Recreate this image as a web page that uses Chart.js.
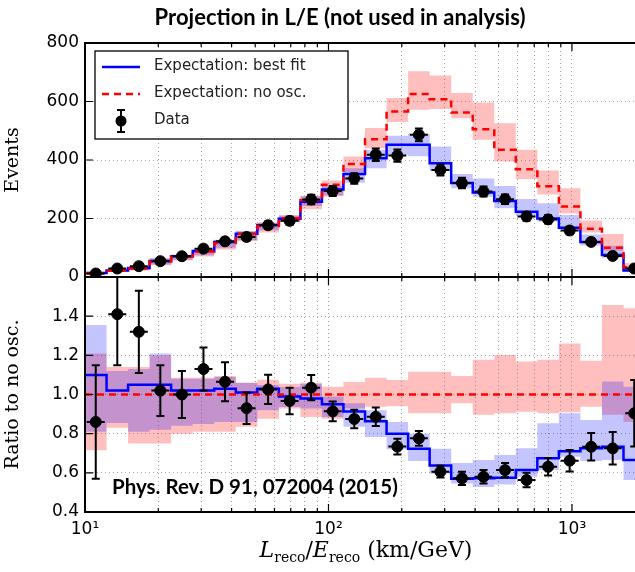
<!DOCTYPE html>
<html>
<head>
<meta charset="utf-8">
<script src="https://cdn.jsdelivr.net/npm/chart.js@4.4.1/dist/chart.umd.min.js"></script>
<style>
  body { margin: 0; background: #fff; overflow: hidden; }
  #wrap { position: relative; width: 635px; height: 572px; overflow: hidden; }
  canvas { position: absolute; left: 0; top: 0; }
  .txt { position: absolute; color: #000; white-space: nowrap; }
  #title { left: 0; width: 680px; top: 3px; text-align: center; font: 700 22px Lato, sans-serif; }
  #ref { left: 112px; top: 474px; font: 700 20.5px Lato, sans-serif; }
  #xlabel { left: 0; width: 732px; top: 538px; text-align: center; font: 22px "DejaVu Serif", serif; line-height: 24px; }
  #xlabel sub { font-size: 14px; vertical-align: -5px; line-height: 0; }
</style>
</head>
<body>
<div id="wrap">
  <canvas id="topChart" width="660" height="572"></canvas>
  <canvas id="ratioChart" width="660" height="572"></canvas>
  <div class="txt" id="title">Projection in L/E (not used in analysis)</div>
  <div class="txt" id="ref">Phys. Rev. D 91, 072004 (2015)</div>
  <div class="txt" id="xlabel"><i>L</i><sub>reco</sub>/<i>E</i><sub>reco</sub> (km/GeV)</div>
</div>
<script>
// bins in L/E (km/GeV), log spaced
const binEdges = [10, 12.26, 15.03, 18.42, 22.58, 27.69, 33.95, 41.62, 51.03, 62.55, 76.68, 94.0, 115.2,
  141.3, 173.2, 212.3, 260.3, 319.1, 391.2, 479.6, 587.9, 720.7, 883.6, 1083, 1328, 1628, 1995];
const binCenters = [11.07, 13.57, 16.64, 20.39, 25.0, 30.66, 37.59, 46.09, 56.5, 69.26, 84.9, 104.1, 127.6,
  156.4, 191.8, 235.1, 288.2, 353.3, 433.2, 531.0, 650.9, 798.0, 978.3, 1199, 1470, 1802];
const xTicks = [10, 20, 30, 40, 50, 60, 70, 80, 90, 100, 200, 300, 400, 500, 600, 700, 800, 900, 1000];
const xTickLabels = { 10: "10\u00b9", 100: "10\u00b2", 1000: "10\u00b3" };

// top panel: events
const noOsc     = [13, 21, 29, 53, 70, 87, 116, 147, 174, 201, 262, 315, 386, 471, 566, 626, 608, 562, 505, 435, 368, 310, 241, 165, 100, 33];
const noOscHi   = [16, 24, 33, 63, 76, 94, 127, 156, 187, 212, 278, 330, 412, 509, 612, 703, 689, 629, 597, 526, 435, 364, 303, 193, 147, 48];
const noOscLo   = [9, 18, 22, 40, 56, 70, 94, 123, 152, 187, 232, 276, 359, 440, 530, 572, 574, 543, 469, 395, 335, 282, 217, 152, 90, 28];
const bestFit   = [14, 22, 31, 55, 71, 89, 120, 148, 178, 199, 257, 299, 352, 406, 452, 452, 389, 321, 289, 260, 223, 200, 168, 120, 75, 22];
const bestFitHi = [18, 24, 33, 64, 76, 94, 126, 156, 182, 209, 276, 311, 372, 435, 483, 490, 446, 352, 337, 311, 267, 252, 212, 145, 107, 35];
const bestFitLo = [10, 18, 24, 43, 59, 74, 100, 126, 160, 188, 243, 279, 322, 372, 418, 413, 362, 303, 274, 235, 210, 190, 162, 108, 66, 19];
const dataEvents = [12, 29, 37, 54, 71, 97, 122, 137, 177, 192, 265, 294, 337, 418, 415, 486, 366, 321, 292, 266, 207, 197, 159, 120, 72, 29];
const dataErr    = [4, 6, 6, 8, 9, 10, 11, 12, 13, 14, 16, 17, 18, 21, 21, 22, 19, 18, 17, 16, 15, 14, 13, 11, 9, 6];

// bottom panel: ratio to no oscillation
const ratioData = [0.86, 1.41, 1.32, 1.02, 1.00, 1.13, 1.065, 0.93, 1.026, 0.967, 1.035, 0.914, 0.875, 0.886, 0.734, 0.776,
  0.606, 0.572, 0.58, 0.614, 0.563, 0.631, 0.662, 0.733, 0.725, 0.904];
const ratioErr = [0.29, 0.26, 0.21, 0.13, 0.12, 0.11, 0.10, 0.08, 0.075, 0.068, 0.064, 0.05, 0.047, 0.047, 0.04, 0.038,
  0.03, 0.034, 0.034, 0.036, 0.037, 0.045, 0.055, 0.07, 0.083, 0.17];
const ratioBestFit = [1.10, 1.02, 1.05, 1.05, 1.02, 1.02, 1.03, 1.01, 1.03, 0.99, 0.98, 0.95, 0.913, 0.863, 0.80, 0.723,
  0.638, 0.57, 0.572, 0.575, 0.614, 0.674, 0.71, 0.725, 0.733, 0.665];
const ratioBestFitHi = [1.355, 1.12, 1.13, 1.21, 1.08, 1.08, 1.09, 1.06, 1.048, 1.038, 1.055, 0.99, 0.955, 0.919, 0.86, 0.80,
  0.723, 0.65, 0.665, 0.691, 0.725, 0.853, 0.904, 0.87, 1.066, 1.04];
const ratioBestFitLo = [0.81, 0.855, 0.81, 0.82, 0.84, 0.85, 0.86, 0.86, 0.919, 0.936, 0.928, 0.885, 0.835, 0.783, 0.72, 0.66,
  0.595, 0.546, 0.528, 0.54, 0.58, 0.614, 0.682, 0.66, 0.665, 0.563];
const ratioNoOscHi = [1.21, 1.14, 1.14, 1.20, 1.086, 1.086, 1.094, 1.06, 1.075, 1.055, 1.06, 1.04, 1.064, 1.086, 1.074, 1.116,
  1.116, 1.094, 1.177, 1.202, 1.168, 1.177, 1.261, 1.172, 1.457, 1.44];
const ratioNoOscLo = [0.715, 0.83, 0.75, 0.75, 0.80, 0.81, 0.81, 0.835, 0.876, 0.928, 0.885, 0.876, 0.93, 0.938, 0.94, 0.904,
  0.904, 0.955, 0.897, 0.904, 0.912, 0.904, 0.91, 0.938, 0.897, 0.86];

const BLUE = "#0000ff";
const RED = "#ff0000";
const RED_BAND = "rgba(255, 0, 0, 0.25)";
const BLUE_BAND = "rgba(0, 0, 255, 0.23)";

Chart.defaults.font.family = "'DejaVu Sans', sans-serif";
Chart.defaults.font.size = 17;
Chart.defaults.color = "#000";
Chart.defaults.animation = false;

// histogram step: one point per left edge, plus closing edge
const steps = vals => binEdges.map((e, i) => ({ x: e, y: vals[Math.min(i, vals.length - 1)] }));
const centers = vals => binCenters.map((c, i) => ({ x: c, y: vals[i] }));

function bandPair(hi, lo, color, order) {
  return [
    { data: steps(hi), stepped: true, borderWidth: 0, pointRadius: 0, fill: false, order: order },
    { data: steps(lo), stepped: true, borderWidth: 0, pointRadius: 0, fill: "-1", backgroundColor: color, order: order }
  ];
}

// error bars drawn through the chart's y scale
const errorBars = {
  id: "errorBars",
  afterDatasetsDraw(chart) {
    const idx = chart.data.datasets.findIndex(d => d.errors);
    if (idx < 0) return;
    const ds = chart.data.datasets[idx];
    const meta = chart.getDatasetMeta(idx);
    const y = chart.scales.y;
    const a = chart.chartArea;
    const ctx = chart.ctx;
    ctx.save();
    ctx.beginPath();
    ctx.rect(a.left, a.top, a.right - a.left, a.bottom - a.top);
    ctx.clip();
    ctx.strokeStyle = "#000";
    ctx.lineWidth = 2;
    meta.data.forEach((pt, i) => {
      const v = ds.data[i].y;
      const hi = y.getPixelForValue(v + ds.errors[i]);
      const lo = y.getPixelForValue(v - ds.errors[i]);
      ctx.beginPath();
      ctx.moveTo(pt.x, hi); ctx.lineTo(pt.x, lo);
      ctx.moveTo(pt.x - 4, hi); ctx.lineTo(pt.x + 4, hi);
      ctx.moveTo(pt.x - 4, lo); ctx.lineTo(pt.x + 4, lo);
      ctx.moveTo(pt.x - 9, pt.y); ctx.lineTo(pt.x + 9, pt.y);
      ctx.stroke();
    });
    ctx.restore();
  }
};

// box around the axes with inward ticks
const frame = {
  id: "frame",
  afterDraw(chart) {
    const { ctx, chartArea: a, scales } = chart;
    ctx.save();
    ctx.strokeStyle = "#000";
    ctx.lineWidth = 1.2;
    scales.x.ticks.forEach(t => {
      const x = scales.x.getPixelForValue(t.value);
      const len = xTickLabels[t.value] ? 8 : 4;
      ctx.beginPath();
      ctx.moveTo(x, a.bottom); ctx.lineTo(x, a.bottom - len);
      ctx.moveTo(x, a.top); ctx.lineTo(x, a.top + len);
      ctx.stroke();
    });
    scales.y.ticks.forEach(t => {
      const y = scales.y.getPixelForValue(t.value);
      ctx.beginPath();
      ctx.moveTo(a.left, y); ctx.lineTo(a.left + 8, y);
      ctx.moveTo(a.right, y); ctx.lineTo(a.right - 8, y);
      ctx.stroke();
    });
    ctx.lineWidth = 2;
    ctx.strokeRect(a.left, a.top, a.right - a.left, a.bottom - a.top);
    ctx.restore();
  }
};

const legendBox = {
  id: "legendBox",
  afterDraw(chart) {
    const ctx = chart.ctx;
    ctx.save();
    ctx.fillStyle = "#fff";
    ctx.fillRect(95, 51, 253, 88);
    ctx.strokeStyle = "#000";
    ctx.lineWidth = 1.3;
    ctx.strokeRect(95, 51, 253, 88);

    ctx.lineWidth = 2.5;
    ctx.strokeStyle = BLUE;
    ctx.beginPath(); ctx.moveTo(102, 67); ctx.lineTo(140, 67); ctx.stroke();
    ctx.strokeStyle = RED;
    ctx.setLineDash([7, 5]);
    ctx.beginPath(); ctx.moveTo(102, 94); ctx.lineTo(140, 94); ctx.stroke();
    ctx.setLineDash([]);
    ctx.strokeStyle = "#000";
    ctx.lineWidth = 2;
    ctx.beginPath();
    ctx.moveTo(121, 110); ctx.lineTo(121, 132);
    ctx.moveTo(117, 110); ctx.lineTo(125, 110);
    ctx.moveTo(117, 132); ctx.lineTo(125, 132);
    ctx.stroke();
    ctx.fillStyle = "#000";
    ctx.beginPath(); ctx.arc(121, 121, 5.5, 0, Math.PI * 2); ctx.fill();

    ctx.font = "15px 'DejaVu Sans'";
    ctx.textBaseline = "middle";
    ctx.fillStyle = "#222";
    ctx.fillText("Expectation: best fit", 154, 66);
    ctx.fillText("Expectation: no osc.", 154, 93);
    ctx.fillText("Data", 154, 120);
    ctx.restore();
  }
};

function xScale(showLabels, height) {
  return {
    type: "logarithmic",
    min: 10,
    max: 1995,
    afterBuildTicks: s => { s.ticks = xTicks.map(v => ({ value: v })); },
    afterFit: s => { s.height = height; },
    ticks: {
      display: showLabels,
      autoSkip: false,
      maxRotation: 0,
      padding: 7,
      callback: v => xTickLabels[v] || ""
    },
    grid: { color: "rgba(0,0,0,0.35)", lineWidth: 1, drawTicks: false },
    border: { display: false, dash: [1, 3] }
  };
}

function yScale(min, max, step, title, cb) {
  return {
    min: min,
    max: max,
    afterFit: s => { s.width = 85; },
    ticks: { stepSize: step, padding: 6, callback: cb },
    grid: { color: "rgba(0,0,0,0.35)", lineWidth: 1, drawTicks: false },
    border: { display: false, dash: [1, 3] },
    title: { display: true, text: title, font: { family: "'DejaVu Serif', serif", size: 19 }, padding: { top: 2, bottom: 0 } }
  };
}

new Chart(document.getElementById("topChart"), {
  type: "line",
  data: {
    datasets: [
      { label: "Data", data: centers(dataEvents), errors: dataErr, showLine: false,
        pointRadius: 5.5, pointBackgroundColor: "#000", pointBorderColor: "#000", order: 0 },
      { label: "Expectation: best fit", data: steps(bestFit), stepped: true, borderColor: BLUE,
        borderWidth: 2.5, pointRadius: 0, fill: false, order: 2 },
      { label: "Expectation: no osc.", data: steps(noOsc), stepped: true, borderColor: RED, borderDash: [7, 5],
        borderWidth: 2.5, pointRadius: 0, fill: false, order: 1 },
      ...bandPair(bestFitHi, bestFitLo, BLUE_BAND, 3),
      ...bandPair(noOscHi, noOscLo, RED_BAND, 4)
    ]
  },
  options: {
    responsive: false,
    layout: { padding: { top: 43, bottom: 295, left: 0, right: 15 } },
    plugins: { legend: { display: false }, tooltip: { enabled: false } },
    scales: {
      x: xScale(false, 0),
      y: yScale(0, 800, 200, "Events", v => String(v))
    }
  },
  plugins: [errorBars, frame, legendBox]
});

new Chart(document.getElementById("ratioChart"), {
  type: "line",
  data: {
    datasets: [
      { label: "Data", data: centers(ratioData), errors: ratioErr, showLine: false,
        pointRadius: 5.5, pointBackgroundColor: "#000", pointBorderColor: "#000", order: 0 },
      { label: "Expectation: no osc.", data: [{ x: 10, y: 1 }, { x: 1995, y: 1 }], borderColor: RED, borderDash: [7, 5],
        borderWidth: 2.5, pointRadius: 0, fill: false, order: 1 },
      { label: "Expectation: best fit", data: steps(ratioBestFit), stepped: true, borderColor: BLUE,
        borderWidth: 2.5, pointRadius: 0, fill: false, order: 2 },
      ...bandPair(ratioBestFitHi, ratioBestFitLo, BLUE_BAND, 3),
      ...bandPair(ratioNoOscHi, ratioNoOscLo, RED_BAND, 4)
    ]
  },
  options: {
    responsive: false,
    layout: { padding: { top: 277, bottom: 0, left: 0, right: 15 } },
    plugins: { legend: { display: false }, tooltip: { enabled: false } },
    scales: {
      x: xScale(true, 60),
      y: yScale(0.4, 1.6, 0.2, "Ratio to no osc.", v => (v > 1.55 ? "" : v.toFixed(1)))
    }
  },
  plugins: [errorBars, frame]
});
</script>
</body>
</html>
